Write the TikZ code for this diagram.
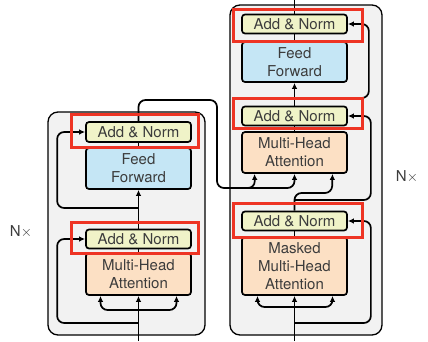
\documentclass[tikz,border=0pt]{standalone}
\usepackage{fontspec}
\setmainfont{TeX Gyre Heros}
\usetikzlibrary{positioning, arrows.meta, calc}

\definecolor{normfill}{RGB}{240,243,200}
\definecolor{fffill}{RGB}{197,230,245}
\definecolor{attnfill}{RGB}{252,224,196}
\definecolor{stackfill}{RGB}{242,242,242}
\definecolor{hlred}{RGB}{238,52,36}
\definecolor{labelgray}{RGB}{60,60,60}

\tikzset{
  sublayer/.style={draw, line width=1.7pt, rounded corners=3pt, minimum width=105pt,
    inner sep=0pt, align=center, text=labelgray, font=\fontsize{15}{18}\selectfont},
  addnorm/.style={sublayer, fill=normfill, minimum height=19pt},
  ffbox/.style={sublayer, fill=fffill, minimum height=41pt},
  attnbox/.style={sublayer, fill=attnfill, minimum height=42pt},
  stack/.style={draw, line width=1.3pt, rounded corners=10pt, fill=stackfill},
  hl/.style={draw=hlred, line width=3pt},
  conn/.style={line width=1.7pt, rounded corners=7pt},
  arr/.style={conn, -{Latex[length=6pt,width=5.5pt]}},
}

\begin{document}
\begin{tikzpicture}[x=1pt, y=-1pt]
  \useasboundingbox (0,0) rectangle (428,341);
  % stacks
  \draw[stack] (48,112) rectangle (205,335);
  \draw[stack] (230,5) rectangle (382,335);

  % encoder
  \node[attnbox] (encattn) at (138.5,274) {Multi-Head\\Attention};
  \node[addnorm] (encan1) at (138.5,239) {Add \& Norm};
  \node[ffbox] (encff) at (138.5,168.5) {Feed\\Forward};
  \node[addnorm, minimum height=20pt] (encan2) at (138.5,132) {Add \& Norm};
  \node[text=labelgray, font=\fontsize{15}{18}\selectfont] (encn) at (21,232) {N$\times$};

  % decoder
  \node[attnbox, minimum height=58pt] (decmask) at (294.5,266) {Masked\\Multi-Head\\Attention};
  \node[addnorm] (decan1) at (294.5,221) {Add \& Norm};
  \node[attnbox, minimum height=41pt] (decattn) at (294.5,152.5) {Multi-Head\\Attention};
  \node[addnorm] (decan2) at (294.5,116) {Add \& Norm};
  \node[ffbox, minimum height=40pt] (decff) at (294.5,62) {Feed\\Forward};
  \node[addnorm] (decan3) at (294.5,24) {Add \& Norm};
  \node[text=labelgray, font=\fontsize{15}{18}\selectfont] (decn) at (407,177) {N$\times$};

  % encoder connections
  \coordinate (encin) at (138.5,341);
  \coordinate (encsplit) at (138.5,310);
  \coordinate (encres1) at (138.5,323);
  \coordinate (encres2) at (138.5,208);
  \draw[arr] (encin) -- (encattn.south);
  \foreach \dx in {-38,38}
    \draw[arr] (encsplit) -| ([xshift=\dx pt]encattn.south);
  \draw[arr] (encres1) -| ([xshift=-28pt]encan1.west) -- (encan1.west);
  \draw[conn] (encattn.north) -- (encan1.south);
  \draw[arr] (encan1.north) -- (encff.south);
  \draw[arr] (encres2) -| ([xshift=-28pt]encan2.west) -- (encan2.west);
  \draw[conn] (encff.north) -- (encan2.south);
  % encoder output into decoder
  \draw[arr] (encan2.north) |- (217,100) |- (255,188) -- ([xshift=-40pt]decattn.south);
  \draw[arr] (240,188) -| (decattn.south);

  % decoder connections
  \coordinate (decin) at (294.5,341);
  \coordinate (decsplit) at (294.5,307);
  \coordinate (decres1) at (294.5,323);
  \coordinate (decres2) at (294.5,200);
  \coordinate (decres3) at (294.5,98);
  \coordinate (decout) at (294.5,0);
  \draw[arr] (decin) -- (decmask.south);
  \foreach \dx in {-37,38}
    \draw[arr] (decsplit) -| ([xshift=\dx pt]decmask.south);
  \draw[arr] (decres1) -| ([xshift=23pt]decan1.east) -- (decan1.east);
  \draw[conn] (decmask.north) -- (decan1.south);
  \draw[arr] (decan1.north) |- (332,193) -- ([xshift=38pt]decattn.south);
  \draw[arr] (decres2) -| ([xshift=23pt]decan2.east) -- (decan2.east);
  \draw[conn] (decattn.north) -- (decan2.south);
  \draw[arr] (decan2.north) -- (decff.south);
  \draw[arr] (decres3) -| ([xshift=21pt]decan3.east) -- (decan3.east);
  \draw[conn] (decff.north) -- (decan3.south);
  \draw[conn] (decan3.north) -- (decout);

  % highlighted add & norm layers
  \draw[hl] (71,114) rectangle (198,147);
  \draw[hl] (71,222) rectangle (198,253);
  \draw[hl] (233,9) rectangle (362,41);
  \draw[hl] (233,98) rectangle (362,128);
  \draw[hl] (233,203) rectangle (362,237);
\end{tikzpicture}
\end{document}
